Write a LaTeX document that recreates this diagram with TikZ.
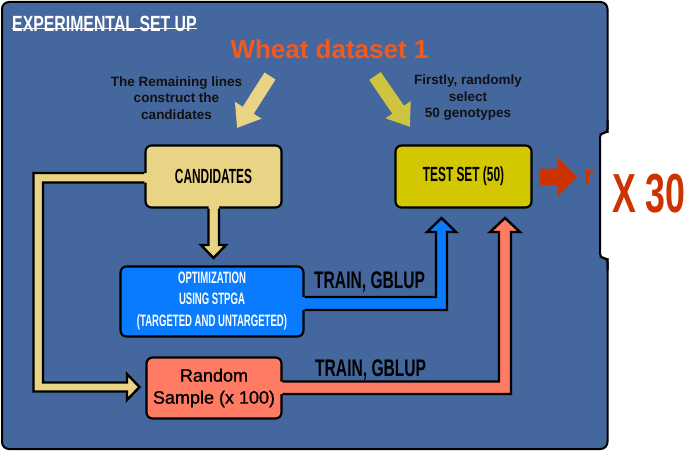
\documentclass[tikz,border=0pt]{standalone}
\usepackage{fontspec}
\setmainfont{Liberation Sans}
\newfontfamily\bebas{Liberation Sans}[FakeStretch=0.58]
\newfontfamily\bebasw{Liberation Sans}[FakeStretch=0.65]
\newfontfamily\bebast{Liberation Sans}[FakeStretch=0.72]
\newfontfamily\helvmed{Liberation Sans}[FakeBold=1]
\usetikzlibrary{arrows.meta}
\definecolor{panel}{HTML}{44679E}
\definecolor{tanc}{HTML}{E9D385}
\definecolor{testc}{HTML}{D3C700}
\definecolor{olivec}{HTML}{CFC43F}
\definecolor{optc}{HTML}{087BFF}
\definecolor{salmon}{HTML}{FF7B63}
\definecolor{redc}{HTML}{CC3300}
\definecolor{wheatc}{HTML}{F2591F}
\definecolor{ink}{HTML}{111111}
\begin{document}
\begin{tikzpicture}[x=1pt,y=-1pt,
  every node/.style={inner sep=0pt},
  box/.style={draw=black, line width=2.2pt, rounded corners=6pt},
  boxlabel/.style={font=\bebas\bfseries\fontsize{20.5}{20.5}\selectfont, text=black},
  note/.style={font=\bfseries\fontsize{13.5}{16.5}\selectfont, text=ink, align=center},
  trainlabel/.style={font=\bebasw\bfseries\fontsize{24}{24}\selectfont, text=black, anchor=base west},
  bandline/.style={line width=2.4pt, black, line join=miter}]
\useasboundingbox (0,0) rectangle (685,452);
\fill[white] (0,0) rectangle (685,452);
% panel
\draw[fill=panel, line width=2pt, rounded corners=7pt] (2,2) rectangle (607.5,449);
\fill[white] (600,133) rectangle (685,258);
\draw[line width=2pt, rounded corners=4pt] (607.5,120) -- (607.5,133) -- (600,133) -- (600,258) -- (607.5,258) -- (607.5,270);
% title
\node[anchor=base west, text=white, font=\bebast\bfseries\fontsize{22}{22}\selectfont] (title) at (12,31.5) {EXPERIMENTAL SET UP};
\draw[white, line width=1.5pt] ([yshift=2.8pt]title.base west) -- ([yshift=2.8pt]title.base east);
% heading
\node[anchor=base, text=wheatc, font=\bfseries\fontsize{26}{26}\selectfont] (wheat) at (329.5,59) {Wheat dataset 1};
\node[note] (leftnote) at (176.5,98) {The Remaining lines\\construct the\\candidates};
\node[note] (rightnote) at (468,98) {Firstly, randomly\\select\\50 genotypes};
% diagonal arrows
\draw[line width=13pt, tanc, -{Triangle[width=30pt,length=21pt]}] (270,76) -- (237,128);
\draw[line width=14pt, olivec, -{Triangle[width=29pt,length=21pt]}] (375,76) -- (410,127);
% boxes
\node[box, fill=tanc, minimum width=136pt, minimum height=62pt] (cand) at (213.5,176.5) {};
\node[boxlabel] at (cand.center) {CANDIDATES};
\node[box, fill=testc, minimum width=136pt, minimum height=62pt] (test) at (463.5,176.5) {};
\node[boxlabel] at (test.center) {TEST SET (50)};
\node[box, fill=optc, minimum width=183pt, minimum height=70pt] (opt) at (212,301.5) {};
\node[text=white, align=center, font=\bebas\bfseries\fontsize{16.5}{21.5}\selectfont] (opttext) at (212,300.5) {OPTIMIZATION\\USING STPGA\\(TARGETED AND UNTARGETED)};
\node[box, fill=salmon, minimum width=135pt, minimum height=61pt] (rand) at (214,388) {};
\node[align=center, font=\helvmed\fontsize{18}{22}\selectfont, text=black] (randtext) at (214,388) {Random\\Sample (x 100)};
% tan connector candidates -> random sample
\fill[tanc] (147.5,173) -- (33.5,173) -- (33.5,391.5) -- (127,391.5) -- (127,400) -- (139.5,387) -- (127,374) -- (127,382.5) -- (43,382.5) -- (43,182.5) -- (147.5,182.5) -- cycle;
\draw[bandline] (cand.west |- 0,173) -- (33.5,173) -- (33.5,391.5) -- (127,391.5) -- (127,400) -- (139.5,387) -- (127,374) -- (127,382.5) -- (43,382.5) -- (43,182.5) -- (cand.west |- 0,182.5);
% tan connector candidates -> optimization
\fill[tanc] (208.5,205) -- (208.5,245) -- (201,245) -- (213.5,258) -- (226,245) -- (219,245) -- (219,205) -- cycle;
\draw[bandline] (208.5,0 |- cand.south) -- (208.5,245) -- (201,245) -- (213.5,258) -- (226,245) -- (219,245) -- (219,0 |- cand.south);
% blue connector optimization -> test set
\fill[optc] (301,297) -- (436,297) -- (436,232) -- (427,232) -- (441.5,218) -- (456,232) -- (447,232) -- (447,310) -- (301,310) -- cycle;
\draw[bandline] (opt.east |- 0,297) -- (436,297) -- (436,232) -- (427,232) -- (441.5,218) -- (456,232) -- (447,232) -- (447,310) -- (opt.east |- 0,310);
% salmon connector random -> test set
\fill[salmon] (279,381.5) -- (499,381.5) -- (499,232) -- (490,232) -- (505,218) -- (520,232) -- (511,232) -- (511,394) -- (279,394) -- cycle;
\draw[bandline] (rand.east |- 0,381.5) -- (499,381.5) -- (499,232) -- (490,232) -- (505,218) -- (520,232) -- (511,232) -- (511,394) -- (rand.east |- 0,394);
% labels on connectors
\node[trainlabel] (train1) at (314,288) {TRAIN, GBLUP};
\node[trainlabel] (train2) at (315,376.5) {TRAIN, GBLUP};
% red arrow to r
\coordinate (rtip) at (577,177);
\fill[redc] ([xshift=7pt]test.east |- 0,168.5) -- (558,168.5) -- (558,158) -- (rtip) -- (558,196) -- (558,185) -- ([xshift=7pt]test.east |- 0,185) -- cycle;
\node[anchor=base, text=redc, font=\bfseries\fontsize{25}{25}\selectfont] (r) at (589,183.5) {r};
\node[anchor=base west, text=redc, font=\bebasw\bfseries\fontsize{55}{55}\selectfont] (x30) at (612,212) {X 30};
\end{tikzpicture}
\end{document}
